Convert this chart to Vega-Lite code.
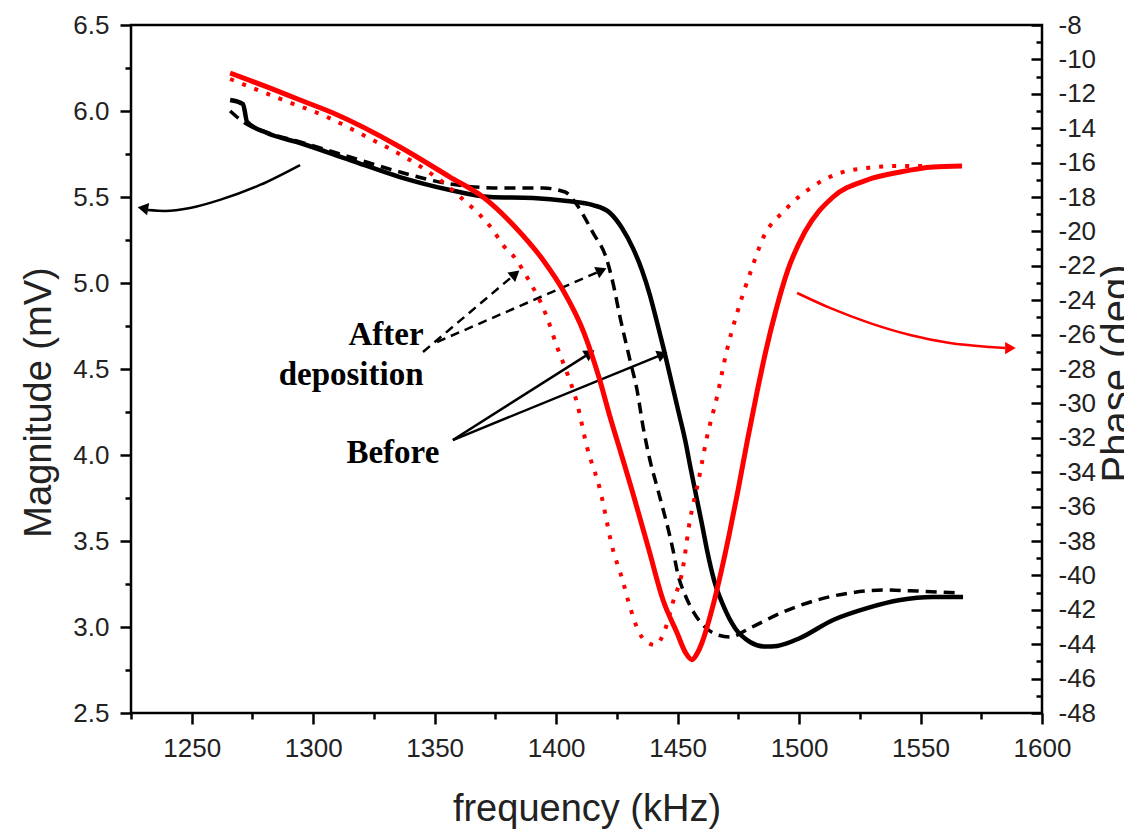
{
  "$schema": "https://vega.github.io/schema/vega-lite/v6.json",
  "width": 911,
  "height": 688,
  "autosize": {"type": "none"},
  "padding": {"left": 131, "top": 25, "right": 82, "bottom": 116},
  "background": "white",
  "config": {
    "view": {"stroke": "black", "strokeWidth": 2.5},
    "font": "Liberation Sans",
    "axis": {
      "grid": false, "domain": false,
      "labelFont": "Liberation Sans", "labelFontSize": 26, "labelColor": "#222",
      "labelFlush": false, "labelOverlap": false, "labelBound": false,
      "tickColor": "black", "tickWidth": 2.5,
      "titleFont": "Liberation Sans", "titleFontSize": 38, "titleFontWeight": "normal", "titleColor": "#222"
    }
  },
  "datasets": {
    "magBefore": [
      {"f":1265.8,"v":6.064},{"f":1271.1,"v":6.04},{"f":1272.8,"v":5.936},{"f":1281,"v":5.872},{"f":1294.6,"v":5.814},{"f":1315.1,"v":5.715},{"f":1335.7,"v":5.616},{"f":1356.3,"v":5.541},{"f":1372.8,"v":5.5},{"f":1390.5,"v":5.494},{"f":1404.5,"v":5.477},{"f":1415.2,"v":5.453},{"f":1422.2,"v":5.407},{"f":1427.1,"v":5.32},{"f":1431.6,"v":5.203},{"f":1435.3,"v":5.076},{"f":1438.6,"v":4.93},{"f":1441.5,"v":4.773},{"f":1444.4,"v":4.61},{"f":1447.3,"v":4.436},{"f":1450.2,"v":4.262},{"f":1453.1,"v":4.087},{"f":1455.5,"v":3.913},{"f":1458.0,"v":3.738},{"f":1460.1,"v":3.593},{"f":1462.1,"v":3.448},{"f":1465.0,"v":3.273},{"f":1468.7,"v":3.128},{"f":1473.6,"v":2.994},{"f":1479.8,"v":2.913},{"f":1486.0,"v":2.886},{"f":1491.0,"v":2.89},{"f":1500.4,"v":2.936},{"f":1514.0,"v":3.041},{"f":1528.0,"v":3.11},{"f":1541.6,"v":3.157},{"f":1555.1,"v":3.174},{"f":1567.5,"v":3.174}
    ],
    "magAfter": [
      {"f":1265.8,"v":6.0},{"f":1271.9,"v":5.93},{"f":1281,"v":5.875},{"f":1294.6,"v":5.82},{"f":1315.1,"v":5.733},{"f":1335.7,"v":5.645},{"f":1356.3,"v":5.576},{"f":1376.9,"v":5.552},{"f":1394.6,"v":5.552},{"f":1403.7,"v":5.529},{"f":1408.6,"v":5.453},{"f":1415.2,"v":5.291},{"f":1420.9,"v":5.134},{"f":1423.4,"v":5.0},{"f":1426.3,"v":4.802},{"f":1430.4,"v":4.552},{"f":1433.3,"v":4.378},{"f":1435.8,"v":4.163},{"f":1438.6,"v":3.971},{"f":1441.9,"v":3.797},{"f":1448.1,"v":3.448},{"f":1450.2,"v":3.302},{"f":1453.1,"v":3.186},{"f":1456.8,"v":3.081},{"f":1461.3,"v":3.0},{"f":1466.6,"v":2.953},{"f":1471.6,"v":2.942},{"f":1479.8,"v":2.994},{"f":1493.4,"v":3.087},{"f":1507.4,"v":3.157},{"f":1521.0,"v":3.198},{"f":1534.6,"v":3.215},{"f":1548.5,"v":3.209},{"f":1565.0,"v":3.198}
    ],
    "phaseBefore": [
      {"f":1265.8,"v":-10.79},{"f":1281.0,"v":-11.6},{"f":1294.6,"v":-12.36},{"f":1308.2,"v":-13.12},{"f":1335.7,"v":-15.09},{"f":1356.3,"v":-16.84},{"f":1369.9,"v":-18.0},{"f":1383.1,"v":-19.74},{"f":1394.6,"v":-21.66},{"f":1402.8,"v":-23.41},{"f":1411.5,"v":-25.91},{"f":1417.6,"v":-28.47},{"f":1422.2,"v":-30.79},{"f":1426.3,"v":-32.71},{"f":1431.2,"v":-35.03},{"f":1438.2,"v":-38.52},{"f":1444.0,"v":-41.43},{"f":1449.8,"v":-43.35},{"f":1453.3,"v":-44.5},{"f":1455.9,"v":-44.9},{"f":1458.2,"v":-44.5},{"f":1460.0,"v":-43.93},{"f":1464.1,"v":-42.01},{"f":1467.9,"v":-39.8},{"f":1471.2,"v":-37.65},{"f":1474.9,"v":-35.03},{"f":1478.6,"v":-32.24},{"f":1482.7,"v":-29.34},{"f":1486.4,"v":-26.9},{"f":1490.5,"v":-24.57},{"f":1495.4,"v":-22.24},{"f":1502.4,"v":-20.03},{"f":1514.0,"v":-18.0},{"f":1528.0,"v":-17.01},{"f":1541.6,"v":-16.55},{"f":1555.1,"v":-16.26},{"f":1567.1,"v":-16.2}
    ],
    "phaseAfter": [
      {"f":1265.8,"v":-11.14},{"f":1287.6,"v":-12.36},{"f":1305.7,"v":-13.35},{"f":1322.1,"v":-14.51},{"f":1339.8,"v":-15.85},{"f":1352.2,"v":-17.01},{"f":1363.3,"v":-18.35},{"f":1368.7,"v":-19.05},{"f":1374.0,"v":-19.92},{"f":1378.1,"v":-20.79},{"f":1383.1,"v":-21.55},{"f":1388.0,"v":-22.65},{"f":1396.2,"v":-24.98},{"f":1400.4,"v":-26.72},{"f":1404.5,"v":-28.23},{"f":1408.6,"v":-29.98},{"f":1412.7,"v":-32.53},{"f":1418.1,"v":-35.03},{"f":1423.4,"v":-38.52},{"f":1427.1,"v":-40.15},{"f":1430.4,"v":-41.84},{"f":1435.3,"v":-43.58},{"f":1440.7,"v":-44.05},{"f":1444.8,"v":-43.17},{"f":1448.1,"v":-41.55},{"f":1451.8,"v":-39.86},{"f":1455.1,"v":-36.78},{"f":1458.4,"v":-34.63},{"f":1462.1,"v":-31.95},{"f":1466.2,"v":-29.63},{"f":1470.3,"v":-26.9},{"f":1474.5,"v":-24.74},{"f":1480.6,"v":-22.13},{"f":1485.2,"v":-20.38},{"f":1494.2,"v":-18.76},{"f":1505.3,"v":-17.42},{"f":1516.9,"v":-16.6},{"f":1528.0,"v":-16.31},{"f":1539.5,"v":-16.2},{"f":1553.9,"v":-16.2}
    ],
    "dashedArrows": [
      {"id":"a1","f":1345.2,"v":4.599},{"id":"a1","f":1383.2,"v":5.053},
      {"id":"a2","f":1351.0,"v":4.657},{"id":"a2","f":1418.7,"v":5.073}
    ],
    "solidArrows": [
      {"id":"b1","f":1357.5,"v":4.087},{"id":"b1","f":1413.9,"v":4.592},
      {"id":"b2","f":1357.5,"v":4.087},{"id":"b2","f":1443.8,"v":4.585}
    ],
    "blackCurve": [
      {"f":1294.6,"v":5.686},{"f":1278.1,"v":5.570},{"f":1261.6,"v":5.483},{"f":1249.3,"v":5.436},{"f":1239.0,"v":5.419},{"f":1232.0,"v":5.424}
    ],
    "redCurve": [
      {"f":1499.2,"v":4.942},{"f":1512.7,"v":4.855},{"f":1529.2,"v":4.767},{"f":1545.7,"v":4.698},{"f":1562.1,"v":4.651},{"f":1578.6,"v":4.628},{"f":1584.8,"v":4.622}
    ],
    "heads": [
      {"f":1383.2,"v":5.053,"angle":50,"c":"black"},
      {"f":1418.7,"v":5.073,"angle":66,"c":"black"},
      {"f":1413.9,"v":4.592,"angle":58,"c":"black"},
      {"f":1443.8,"v":4.585,"angle":68,"c":"black"},
      {"f":1229.9,"v":5.435,"angle":280,"c":"black"},
      {"f":1587.0,"v":4.622,"angle":90,"c":"#ff0000"}
    ],
    "labels": [
      {"f":1330.0,"v":4.64,"t":"After"},
      {"f":1315.6,"v":4.407,"t":"deposition"},
      {"f":1332.8,"v":3.953,"t":"Before"}
    ],
    "dummy": [{"f":1400,"v":4.0,"p":-28}]
  },
  "layer": [
    {
      "encoding": {
        "x": {"field": "f", "type": "quantitative", "scale": {"domain": [1225, 1600], "nice": false, "zero": false},
          "axis": {"orient": "bottom", "values": [1250,1300,1350,1400,1450,1500,1550,1600], "format": "d", "tickSize": 11, "labelPadding": 11, "labelBaseline": "top",
            "title": "frequency (kHz)", "titleX": 455.5, "titleY": 107, "titleBaseline": "alphabetic", "titleAlign": "center"}},
        "y": {"field": "v", "type": "quantitative", "scale": {"domain": [2.5, 6.5], "nice": false, "zero": false},
          "axis": {"orient": "left", "values": [2.5,3.0,3.5,4.0,4.5,5.0,5.5,6.0,6.5], "format": ".1f", "tickSize": 11, "labelPadding": 11,
            "title": "Magnitude (mV)", "titleAngle": 270, "titleX": -81, "titleY": 377, "titleBaseline": "alphabetic", "titleAlign": "center"}}
      },
      "layer": [
        {"data": {"name": "magAfter"}, "mark": {"type": "line", "color": "black", "strokeWidth": 3.5, "strokeDash": [11, 7], "interpolate": "monotone"}},
        {"data": {"name": "magBefore"}, "mark": {"type": "line", "color": "black", "strokeWidth": 4.5, "interpolate": "monotone"}},
        {"data": {"name": "dashedArrows"}, "mark": {"type": "line", "color": "black", "strokeWidth": 2.5, "strokeDash": [9, 6]}, "encoding": {"detail": {"field": "id"}}},
        {"data": {"name": "solidArrows"}, "mark": {"type": "line", "color": "black", "strokeWidth": 2.5}, "encoding": {"detail": {"field": "id"}}},
        {"data": {"name": "blackCurve"}, "mark": {"type": "line", "color": "black", "strokeWidth": 2.5, "interpolate": "monotone"}},
        {"data": {"name": "redCurve"}, "mark": {"type": "line", "color": "#ff0000", "strokeWidth": 2.5, "interpolate": "monotone"}},
        {"data": {"name": "heads"}, "mark": {"type": "point", "shape": "triangle-up", "filled": true, "size": 150, "opacity": 1},
          "encoding": {"angle": {"field": "angle", "type": "quantitative", "scale": null}, "color": {"field": "c", "type": "nominal", "scale": null}}},
        {"data": {"name": "labels"}, "mark": {"type": "text", "font": "Liberation Serif", "fontWeight": "bold", "fontSize": 33, "align": "center", "baseline": "alphabetic", "color": "black"},
          "encoding": {"text": {"field": "t"}}}
      ]
    },
    {
      "encoding": {
        "x": {"field": "f", "type": "quantitative", "scale": {"domain": [1225, 1600], "nice": false, "zero": false}, "axis": null},
        "y": {"field": "v", "type": "quantitative", "scale": {"domain": [-48, -8], "nice": false, "zero": false},
          "axis": {"orient": "right", "values": [-8,-10,-12,-14,-16,-18,-20,-22,-24,-26,-28,-30,-32,-34,-36,-38,-40,-42,-44,-46,-48], "labelExpr": "datum.value + ''", "tickSize": -11, "labelPadding": 27,
            "title": "Phase (deg)", "titleFontSize": 40, "titleAngle": 270, "titleX": 87, "titleY": 348, "titleBaseline": "alphabetic", "titleAlign": "center"}}
      },
      "layer": [
        {"data": {"name": "phaseAfter"}, "mark": {"type": "line", "color": "#ff0000", "strokeWidth": 4, "strokeDash": [4, 9], "interpolate": "monotone"}},
        {"data": {"name": "phaseBefore"}, "mark": {"type": "line", "color": "#ff0000", "strokeWidth": 5, "interpolate": "monotone"}}
      ]
    },
    {
      "data": {"name": "dummy"},
      "mark": {"type": "point", "opacity": 0},
      "encoding": {
        "x": {"field": "f", "type": "quantitative", "scale": {"domain": [1225, 1600], "nice": false, "zero": false},
          "axis": {"orient": "bottom", "values": [1225,1275,1325,1375,1425,1475,1525,1575], "tickSize": 6, "labels": false, "title": null}},
        "y": {"field": "v", "type": "quantitative", "scale": {"domain": [2.5, 6.5], "nice": false, "zero": false},
          "axis": {"orient": "left", "values": [2.75,3.25,3.75,4.25,4.75,5.25,5.75,6.25], "tickSize": 6, "labels": false, "title": null}}
      }
    },
    {
      "data": {"name": "dummy"},
      "mark": {"type": "point", "opacity": 0},
      "encoding": {
        "x": {"field": "f", "type": "quantitative", "scale": {"domain": [1225, 1600], "nice": false, "zero": false}, "axis": null},
        "y": {"field": "p", "type": "quantitative", "scale": {"domain": [-48, -8], "nice": false, "zero": false},
          "axis": {"orient": "right", "values": [-9,-11,-13,-15,-17,-19,-21,-23,-25,-27,-29,-31,-33,-35,-37,-39,-41,-43,-45,-47], "tickSize": -6, "labels": false, "title": null}}
      }
    }
  ],
  "resolve": {"scale": {"x": "independent", "y": "independent"}, "axis": {"x": "independent", "y": "independent"}}
}
